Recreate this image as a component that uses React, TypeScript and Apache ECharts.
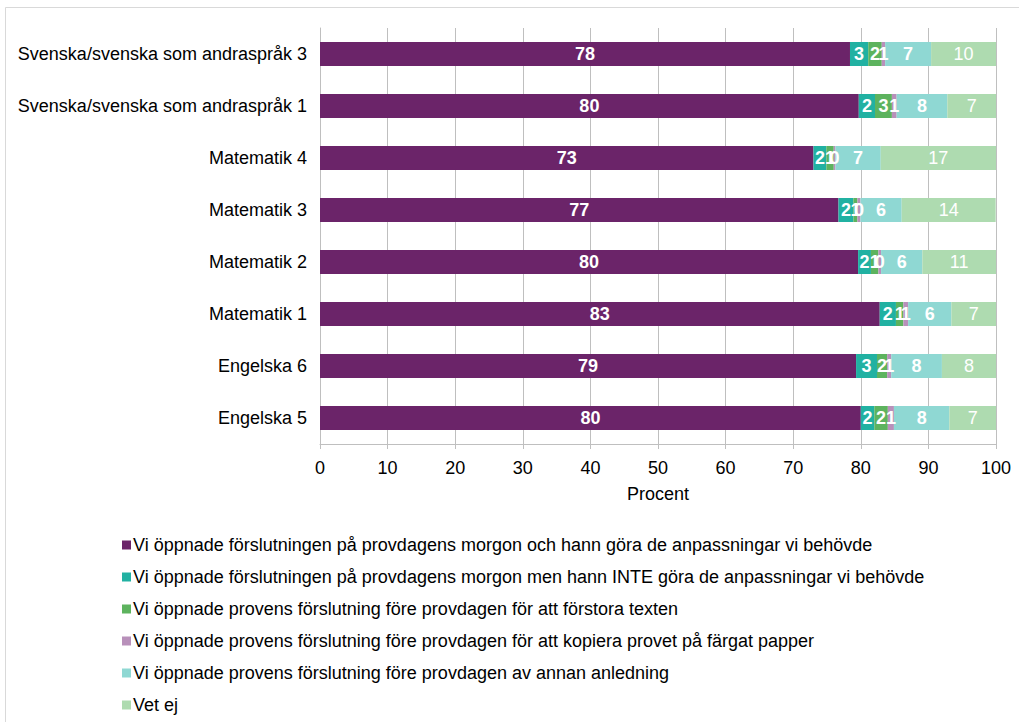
import React, { useEffect, useRef } from "react";
import * as echarts from "echarts";

const categories = [
  "Svenska/svenska som andraspråk 3",
  "Svenska/svenska som andraspråk 1",
  "Matematik 4",
  "Matematik 3",
  "Matematik 2",
  "Matematik 1",
  "Engelska 6",
  "Engelska 5",
];

const seriesNames = [
  "Vi öppnade förslutningen på provdagens morgon och hann göra de anpassningar vi behövde",
  "Vi öppnade förslutningen på provdagens morgon men hann INTE göra de anpassningar vi behövde",
  "Vi öppnade provens förslutning före provdagen för att förstora texten",
  "Vi öppnade provens förslutning före provdagen för att kopiera provet på färgat papper",
  "Vi öppnade provens förslutning före provdagen av annan anledning",
  "Vet ej",
];

const hannGora = [78.4, 79.7, 73.0, 76.7, 79.6, 82.8, 79.3, 80.0];
const hannInte = [2.7, 2.4, 1.9, 2.2, 1.9, 2.4, 3.1, 2.0];
const forstora = [2.0, 2.5, 1.1, 0.6, 1.1, 1.1, 1.5, 2.0];
const kopiera = [0.5, 0.7, 0.25, 0.45, 0.4, 0.7, 0.6, 0.9];
const annan = [6.8, 7.5, 6.7, 6.1, 6.1, 6.4, 7.5, 8.2];
const vetEj = [9.6, 7.2, 17.05, 13.9, 10.9, 6.6, 8.0, 6.9];

const xTicks = [0, 10, 20, 30, 40, 50, 60, 70, 80, 90, 100];

const colors = ["#6B2469", "#21B1A2", "#5DB35E", "#B890BA", "#8FD8D3", "#AEDBB0"];

const FONT = "'Liberation Sans', Arial, sans-serif";

export default function App() {
  const ref = useRef<HTMLDivElement>(null);
  useEffect(() => {
    document.body.style.margin = "0";
    const chart = echarts.init(ref.current!, null, { renderer: "svg" });
    const data = [hannGora, hannInte, forstora, kopiera, annan, vetEj];
    const series = data.map((vals, i) => ({
      name: seriesNames[i],
      type: "bar",
      stack: "total",
      barWidth: 24,
      data: vals,
      itemStyle: { color: colors[i] },
      label: {
        show: true,
        position: "inside",
        color: "#ffffff",
        fontFamily: FONT,
        fontSize: 18,
        fontWeight: i === 5 ? "normal" : "bold",
        formatter: (p: any) => String(Math.round(p.value)),
      },
    }));
    chart.setOption({
      animation: false,
      backgroundColor: "#ffffff",
      textStyle: { fontFamily: FONT },
      grid: { left: 320, right: 23, top: 28, bottom: 278, containLabel: false },
      xAxis: {
        type: "value",
        min: 0,
        max: 100,
        interval: 10,
        name: "Procent",
        nameLocation: "middle",
        nameGap: 41,
        nameTextStyle: { color: "#000", fontSize: 18, fontFamily: FONT },
        axisLine: { show: true, lineStyle: { color: "#BFBFBF", width: 1 } },
        axisTick: { show: true, length: 5, lineStyle: { color: "#BFBFBF" } },
        axisLabel: {
          color: "#000",
          fontSize: 18,
          fontFamily: FONT,
          margin: 15,
          formatter: (v: number) => (xTicks.includes(v) ? String(v) : ""),
        },
        splitLine: { show: true, lineStyle: { color: "#BFBFBF", width: 1 } },
      },
      yAxis: {
        type: "category",
        data: categories,
        inverse: true,
        axisLine: { show: true, lineStyle: { color: "#BFBFBF", width: 1 } },
        axisTick: { show: false },
        axisLabel: { color: "#000", fontSize: 18, fontFamily: FONT, margin: 13 },
      },
      legend: {
        orient: "vertical",
        left: 122,
        top: 536,
        padding: 0,
        itemWidth: 9,
        itemHeight: 9,
        itemGap: 14,
        icon: "rect",
        selectedMode: false,
        textStyle: { color: "#000", fontSize: 18, fontFamily: FONT, lineHeight: 18, padding: [0, 0, 0, -3] },
        data: seriesNames,
      },
      graphic: [
        {
          type: "rect",
          shape: { x: 5.5, y: 7.5, width: 1100, height: 800 },
          style: { fill: "none", stroke: "#D9D9D9", lineWidth: 1 },
          silent: true,
          z: -1,
        },
      ],
      series,
    });
    return () => chart.dispose();
  }, []);
  return <div ref={ref} style={{ width: 1019, height: 722 }} />;
}
